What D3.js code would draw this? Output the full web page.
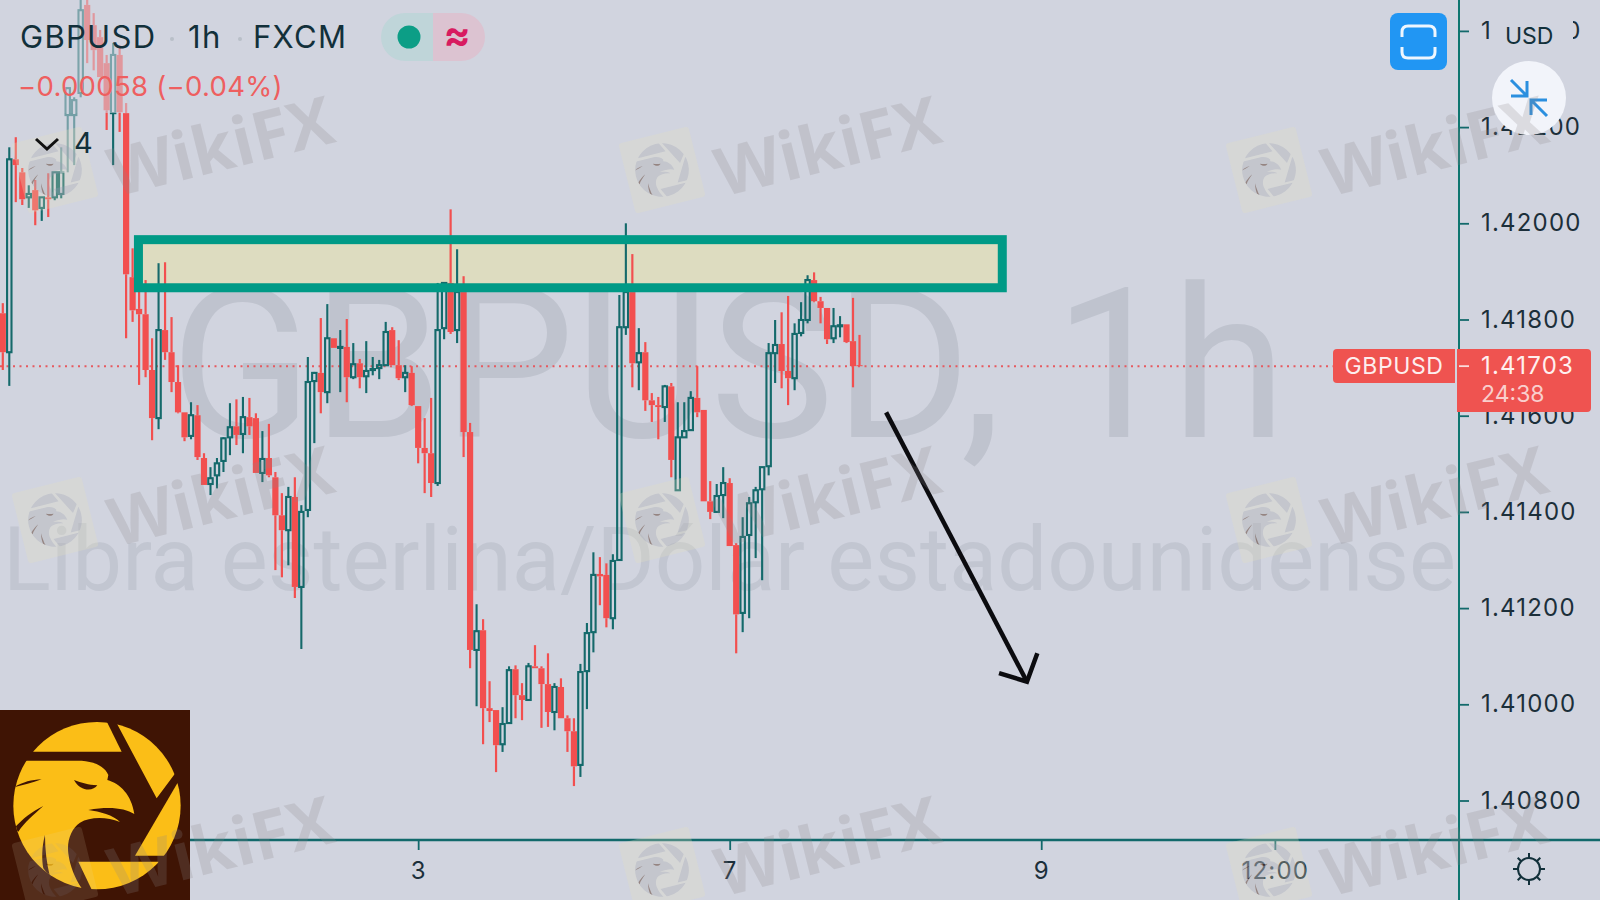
<!DOCTYPE html>
<html lang="es">
<head>
<meta charset="UTF-8" />
<title>GBPUSD 1h</title>
<style>
  html, body { margin: 0; padding: 0; background: #d1d4df; overflow: hidden; }
  svg { display: block; }
  text { font-family: Inter, Roboto, sans-serif; }
  .axis text { font-size: 24px; fill: #1c2f3a; font-family: Inter, Roboto, sans-serif; letter-spacing: 1.2px; }
  .axis line { stroke: #12696b; stroke-width: 1.8; }
  .axis path { display: none; }
</style>
<script src="https://d3js.org/d3.v7.min.js"></script>
</head>
<body>
<div id="chart"></div>
<script>
  // prices are in 1/100000 (141703 = 1.41703), one candle per hour
  const opens = [
    141813,141732,142133,142106,142054,142069,142032,142054,142054,142061,
    142225,142225,142271,142454,142412,142387,142333,142229,142350,142229,
    141888,141822,141811,141695,141595,141778,141732,141670,141607,141558,
    141601,141512,141458,141476,141506,141555,141578,141562,141597,141595,
    141481,141512,141472,141393,141362,141431,141244,141404,141672,141689,
    141649,141761,141741,141743,141680,141709,141682,141695,141699,141705,
    141778,141705,141680,141689,141620,141533,141522,141460,141782,141876,
    141778,141857,141566,141113,141154,140992,140988,140917,140961,141073,
    141019,141009,141079,141075,141042,140984,141036,140971,140944,140874,
    141069,141150,141271,141269,141179,141300,141784,141857,141711,141732,
    141632,141622,141618,141661,141445,141555,141570,141637,141612,141422,
    141400,141435,141460,141331,141190,141352,141420,141447,141495,141730,
    141749,141693,141678,141772,141799,141882,141838,141824,141761,141786,
    141790,141755,141705
  ];
  const closes = [
    141732,142133,142121,142050,142061,142027,142054,142050,142106,142106,
    142281,142256,142443,142381,142360,142304,142235,142350,142231,141894,
    141819,141811,141695,141595,141778,141732,141670,141607,141555,141601,
    141514,141456,141470,141501,141553,141576,141560,141597,141578,141481,
    141510,141476,141393,141362,141431,141244,141400,141670,141689,141649,
    141761,141741,141743,141680,141707,141680,141693,141697,141705,141774,
    141705,141678,141689,141622,141533,141522,141460,141778,141876,141774,
    141857,141566,141113,141152,140992,140986,140915,140959,141071,141019,
    141009,141079,141075,141042,140984,141036,140971,140944,140871,141067,
    141148,141269,141266,141179,141298,141784,141857,141709,141730,141632,
    141622,141618,141661,141508,141555,141568,141637,141607,141422,141400,
    141433,141460,141329,141187,141348,141418,141445,141493,141730,141747,
    141693,141678,141770,141799,141882,141838,141824,141759,141786,141788,
    141753,141703,141703
  ];
  const highs = [
    141834,142158,142179,142115,142079,142090,142054,142104,142106,142158,
    142281,142262,142474,142474,142437,142402,142350,142375,142370,142250,
    141948,141888,141882,141761,141917,141919,141805,141705,141607,141628,
    141622,141522,141493,141512,141555,141626,141634,141639,141637,141605,
    141568,141583,141483,141439,141452,141472,141414,141722,141691,141803,
    141832,141761,141778,141801,141751,141718,141755,141722,141716,141795,
    141784,141757,141705,141703,141620,141595,141637,141876,141876,142029,
    141946,141890,141585,141208,141177,141048,140988,140994,141079,141081,
    141044,141086,141123,141079,141106,141044,141054,140977,140971,141084,
    141169,141316,141306,141293,141312,141851,142000,141936,141782,141753,
    141647,141639,141664,141668,141628,141628,141651,141703,141612,141464,
    141458,141493,141470,141335,141389,141431,141452,141493,141751,141799,
    141815,141849,141792,141836,141892,141898,141847,141824,141824,141807,
    141790,141845,141768
  ];
  const lows = [
    141695,141662,142044,142038,142032,141996,142005,142013,142048,142052,
    142106,142121,142262,142333,142318,142304,142194,142121,142190,141761,
    141795,141664,141680,141549,141572,141716,141649,141605,141547,141551,
    141508,141456,141435,141449,141483,141518,141539,141522,141560,141481,
    141462,141472,141279,141264,141289,141221,141115,141389,141543,141605,
    141626,141741,141649,141628,141676,141657,141647,141684,141676,141705,
    141705,141674,141649,141620,141501,141439,141431,141454,141759,141770,
    141751,141514,141075,140996,140917,140963,140859,140901,140961,140971,
    140967,141009,141075,140951,140953,140946,140971,140901,140830,140849,
    140990,141108,141206,141160,141156,141300,141768,141659,141653,141610,
    141587,141551,141587,141472,141445,141555,141570,141597,141422,141385,
    141400,141387,141329,141106,141150,141179,141304,141258,141476,141668,
    141657,141622,141653,141765,141792,141836,141792,141749,141751,141763,
    141751,141659,141703
  ];
  const priceTicks = [142400,142200,142000,141800,141600,141400,141200,141000,140800];
  const timeTicks = [64,112,160,196];
  const timeLabels = ['3','7','9','12:00'];
  const lastPrice = 141703;

  // hand-drawn annotations on the chart, in candle index / price
  const zone = { from: 20.9, to: 154, top: 141966, bottom: 141866 };
  const arrowLine = [[136.1,141607],[157.8,141047]];
  const arrowHead = [[153.5,141065],[157.8,141047],[159.4,141106]];

  const bg = '#d1d4df', red = '#f2504f', teal = '#12696b', axisTeal = '#0f7670';

  const width = 1600, height = 900;
  const x = d3.scaleLinear().domain([0,132]).range([2.8,859.5]);
  const y = d3.scaleLinear().domain([142000,140800]).range([223.3,800.5]);

  const svg = d3.select('#chart').append('svg')
    .attr('width', width).attr('height', height)
    .style('background', bg);

  const defs = svg.append('defs');

  // big symbol watermark of the chart
  svg.append('text').attr('x',170).attr('y',437)
    .attr('font-size',209).attr('fill','#bfc3ce')
    .style('font-family','Roboto, sans-serif')
    .text('GBPUSD, 1h');
  svg.append('text').attr('x',3).attr('y',590)
    .attr('font-size',88.7).attr('fill','#c2c6d1')
    .style('font-family','Roboto, sans-serif')
    .text('Libra esterlina/Dólar estadounidense');

  // zone fill goes under the candles, its border over them
  const zoneRect = g => g
    .attr('x', x(zone.from)).attr('y', y(zone.top))
    .attr('width', x(zone.to)-x(zone.from)).attr('height', y(zone.bottom)-y(zone.top));
  svg.append('rect').call(zoneRect).attr('fill','#dddcc0');

  // last price line
  svg.append('line')
    .attr('x1',0).attr('x2',1333).attr('y1',y(lastPrice)).attr('y2',y(lastPrice))
    .attr('stroke','#e65a60').attr('stroke-width',2).attr('stroke-dasharray','2 4.5');

  // candles
  const candles = svg.append('g').attr('filter','url(#soft)');
  defs.append('filter').attr('id','soft').append('feGaussianBlur').attr('stdDeviation',0.35);
  const isUp = i => closes[i] >= opens[i];
  const bodyW = 4.4;
  const idx = d3.range(opens.length);

  candles.selectAll('.wick-high').data(idx).enter().append('line')
    .attr('x1',x).attr('x2',x)
    .attr('y1',i => y(highs[i]))
    .attr('y2',i => y(Math.max(opens[i],closes[i])))
    .attr('stroke',i => isUp(i) ? teal : red).attr('stroke-width',i => isUp(i) ? 2.1 : 2.2);
  candles.selectAll('.wick-low').data(idx).enter().append('line')
    .attr('x1',x).attr('x2',x)
    .attr('y1',i => y(Math.min(opens[i],closes[i])))
    .attr('y2',i => y(lows[i]))
    .attr('stroke',i => isUp(i) ? teal : red).attr('stroke-width',i => isUp(i) ? 2.1 : 2.2);
  candles.selectAll('.body').data(idx).enter().append('rect')
    .attr('x',i => x(i)-bodyW/2 - (isUp(i) ? 0 : 0.9))
    .attr('width',i => isUp(i) ? bodyW : bodyW+1.8)
    .attr('y',i => y(Math.max(opens[i],closes[i])))
    .attr('height',i => Math.max(y(Math.min(opens[i],closes[i]))-y(Math.max(opens[i],closes[i])),1))
    .attr('fill',i => isUp(i) ? 'none' : red)
    .attr('stroke',i => isUp(i) ? teal : 'none')
    .attr('stroke-width',2.1);

  svg.append('rect').call(zoneRect)
    .attr('fill','none').attr('stroke','#009a86').attr('stroke-width',9);

  // arrow
  const arrowPath = d3.line().x(d => x(d[0])).y(d => y(d[1]));
  [arrowLine, arrowHead].forEach(pts => {
    svg.append('path').attr('d',arrowPath(pts))
      .attr('fill','none').attr('stroke','#0b0b0f').attr('stroke-width',4.5);
  });

  // axes
  const axisY = d3.axisRight(y).tickValues(priceTicks).tickSize(10).tickPadding(12)
    .tickFormat(d => (d/1e5).toFixed(5));
  svg.append('g').attr('class','axis').attr('transform','translate(1459,0)').call(axisY);
  svg.append('line').attr('x1',1459).attr('x2',1459).attr('y1',0).attr('y2',900)
    .attr('stroke',axisTeal).attr('stroke-width',2);

  const axisX = d3.axisBottom(x).tickValues(timeTicks).tickSize(10).tickPadding(12)
    .tickFormat((d,i) => timeLabels[i]);
  svg.append('g').attr('class','axis').attr('transform','translate(0,840)').call(axisX);
  svg.append('line').attr('x1',0).attr('x2',1600).attr('y1',840).attr('y2',840)
    .attr('stroke',teal).attr('stroke-width',2.4);

  // soft legend background over the top-left candles
  svg.append('rect').attr('x',0).attr('y',0).attr('width',135).attr('height',113)
    .attr('fill',bg).attr('opacity',0.55);
  svg.append('rect').attr('x',60).attr('y',113).attr('width',25).attr('height',60)
    .attr('fill',bg).attr('opacity',0.5);

  // legend
  const ink = '#12303a';
  const legend = svg.append('g').attr('fill',ink).attr('font-size',31).style('letter-spacing','1.3px');
  legend.append('text').attr('x',20).attr('y',48).text('GBPUSD');
  legend.append('text').attr('x',188).attr('y',48).text('1h');
  legend.append('text').attr('x',253).attr('y',48).text('FXCM');
  svg.append('circle').attr('cx',172).attr('cy',39).attr('r',2).attr('fill','#b9bfc8');
  svg.append('circle').attr('cx',240).attr('cy',39).attr('r',2).attr('fill','#b9bfc8');

  svg.append('path').attr('d','M381,37a24,24 0 0 1 24,-24h28v48h-28a24,24 0 0 1 -24,-24z').attr('fill','#bfd5d9');
  svg.append('path').attr('d','M433,13h28a24,24 0 0 1 0,48h-28z').attr('fill','#dcc3d1');
  svg.append('circle').attr('cx',409).attr('cy',37).attr('r',11.5).attr('fill','#0c9e86');
  svg.append('text').attr('x',457).attr('y',49).attr('text-anchor','middle')
    .attr('font-size',40).attr('font-weight',700).attr('fill','#d81b60').text('≈');

  svg.append('text').attr('x',18).attr('y',96).attr('font-size',27.5)
    .style('letter-spacing','0.3px')
    .attr('fill','#ee5f60').text('−0.00058 (−0.04%)');

  // USD badge sits on the first tick label
  svg.append('rect').attr('x',1490).attr('y',16).attr('width',83).attr('height',36).attr('fill',bg);
  svg.append('text').attr('x',1505).attr('y',44).attr('font-size',23).attr('fill',ink).text('USD');

  // compress button
  svg.append('circle').attr('cx',1529).attr('cy',98).attr('r',37).attr('fill','#f2f4fa');
  svg.append('path')
    .attr('d','M1511,80L1527,96M1527,81V96H1511M1547,116L1531,100M1531,115V100H1547')
    .attr('fill','none').attr('stroke','#2b8fdf').attr('stroke-width',3);

  // fullscreen button
  svg.append('rect').attr('x',1390).attr('y',13).attr('width',57).attr('height',57)
    .attr('rx',8).attr('fill','#2196f3');
  svg.append('path')
    .attr('d','M1402,37v-5q0,-6 6,-6h21q6,0 6,6v5M1402,47v5q0,6 6,6h21q6,0 6,-6v-5')
    .attr('fill','none').attr('stroke','#eef6fe').attr('stroke-width',3);

  // price labels
  svg.append('path').attr('d','M1337,349H1455V383H1337a4,4 0 0 1 -4,-4V353a4,4 0 0 1 4,-4z').attr('fill','#ef5350');
  svg.append('text').attr('x',1394).attr('y',374).attr('text-anchor','middle')
    .style('letter-spacing','0.6px')
    .attr('font-size',23).attr('fill','#fdeeee').text('GBPUSD');
  svg.append('path').attr('d','M1457,349H1587a4,4 0 0 1 4,4V408a4,4 0 0 1 -4,4H1457z').attr('fill','#ef5350');
  svg.append('line').attr('x1',1459).attr('x2',1469).attr('y1',y(lastPrice)).attr('y2',y(lastPrice))
    .attr('stroke','#fbdcdc').attr('stroke-width',1.8);
  svg.append('text').attr('x',1481).attr('y',374).attr('font-size',24).attr('fill','#fff0ef')
    .style('letter-spacing','1.2px')
    .text((lastPrice/1e5).toFixed(5));
  svg.append('text').attr('x',1481).attr('y',402).attr('font-size',23).attr('fill','#f9cfcd').text('24:38');

  // settings icon
  const sun = svg.append('g').attr('transform','translate(1529,869)')
    .attr('stroke',ink).attr('fill','none').attr('stroke-width',2);
  sun.append('circle').attr('r',11);
  d3.range(8).forEach(k => {
    sun.append('line').attr('y1',-11).attr('y2',-16).attr('transform',`rotate(${k*45})`);
  });

  // eagle mark, drawn on a 3x grid with the disc centred on 290,317
  const clip = defs.append('clipPath').attr('id','disc');
  clip.append('circle').attr('cx',291).attr('cy',317).attr('r',251);
  const mark = defs.append('g').attr('id','eagle').attr('clip-path','url(#disc)').attr('fill','currentColor');
  mark.append('path').attr('d','M100,155H365L318,60L40,40z');
  mark.append('path').attr('d','M345,60L470,295L522,225L600,120V40z');
  mark.append('path').attr('d','M405,467L532,250L600,250V467z');
  mark.append('path').attr('d','M235,485H475L500,600H290z');
  mark.append('path').attr('d',
    'M78,182H245C285,185 315,200 325,225L322,240C360,250 395,285 403,342' +
    'C375,325 330,318 265,330C300,335 340,345 360,366C320,350 270,350 240,368' +
    'C215,385 200,420 205,460C210,500 225,535 245,565L130,600L0,500L0,260z');
  const slit = '#3f1404';
  mark.append('path').attr('fill',slit).attr('d','M42,262C70,245 95,240 125,238C95,250 70,255 42,262z');
  mark.append('path').attr('fill',slit).attr('d','M42,385C70,355 95,335 130,318C100,345 75,365 55,395z');
  mark.append('path').attr('fill',slit).attr('d','M135,405C125,440 125,480 130,505L150,530C140,490 135,450 135,405z');
  mark.append('path').attr('fill',slit).attr('d','M222,240C245,248 265,255 292,256C280,275 240,275 222,240z');

  const logo = svg.append('g');
  logo.append('rect').attr('x',0).attr('y',710).attr('width',190).attr('height',190).attr('fill',slit);
  logo.append('use').attr('href','#eagle').attr('transform','translate(0,700) scale(0.3333)')
    .style('color','#fbbe17');

  // repeating WikiFX stamp over the whole picture
  const stampCols = [0,607,1214];
  const stampRows = [0,350,700];
  stampRows.forEach(dy => stampCols.forEach(dx => {
    const s = svg.append('g').attr('transform',`translate(${dx},${dy})`);
    s.append('text').attr('transform','translate(222,152) rotate(-14)')
      .attr('text-anchor','middle').attr('dominant-baseline','middle')
      .attr('font-size',67).attr('font-weight',700)
      .style('font-family','"Open Sans", sans-serif')
      .attr('fill','#8b8589').attr('opacity',0.22)
      .text('WikiFX');
    const l = s.append('g').attr('transform','translate(55,170) rotate(-14)').attr('opacity',dy === 700 && dx === 0 ? 0.25 : 0.55);
    l.append('rect').attr('x',-36).attr('y',-36).attr('width',72).attr('height',72).attr('rx',3)
      .attr('fill','#e3dfc0').attr('opacity',0.5);
    l.append('use').attr('href','#eagle')
      .attr('transform','scale(0.107) translate(-291,-317)')
      .style('color','#aeb0b8').attr('opacity',0.75);
  }));

  // fold toggle stays on top of the stamp
  svg.append('path').attr('d','M36,139l11,10l11,-10').attr('fill','none')
    .attr('stroke','#111').attr('stroke-width',3);
  svg.append('text').attr('x',74).attr('y',153).attr('font-size',29).attr('fill',ink).text('4');
</script>
</body>
</html>
